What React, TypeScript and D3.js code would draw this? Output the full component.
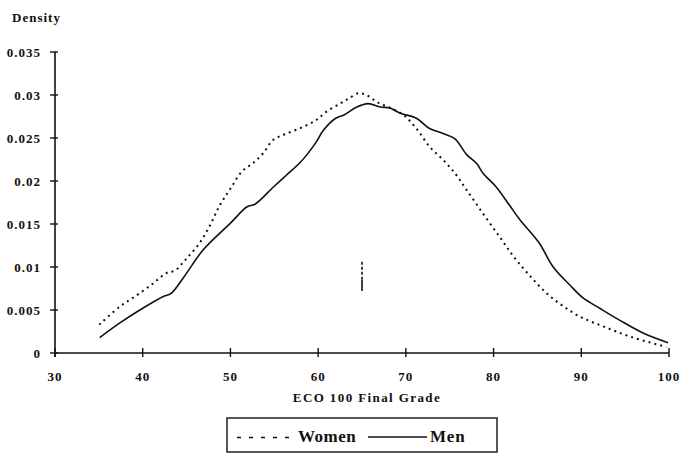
import React from "react";
import * as d3 from "d3";

const xTicks = [30, 40, 50, 60, 70, 80, 90, 100];
const yTicks = [0, 0.005, 0.01, 0.015, 0.02, 0.025, 0.03, 0.035];
const yTickLabels = ["0", "0.005", "0.01", "0.015", "0.02", "0.025", "0.03", "0.035"];

const menGrades = [35.1, 37.4, 40, 42.4, 43.2, 44.6, 46.9, 50, 51.9, 52.8, 54.9, 56.4, 58, 59.7, 60.6, 62, 63, 64.4, 65.7, 67.1, 68.2, 69.3, 71.2, 72.7, 74.3, 75.6, 76.9, 78.1, 78.8, 80.3, 81.8, 83, 85.2, 86.8, 88.7, 90.2, 92.1, 94.4, 97.1, 99.9];
const menDensity = [0.0018, 0.0035, 0.0052, 0.0066, 0.0069, 0.0087, 0.012, 0.0151, 0.017, 0.0173, 0.0193, 0.0207, 0.0222, 0.0244, 0.0259, 0.0273, 0.0277, 0.0286, 0.029, 0.0286, 0.0285, 0.0279, 0.0273, 0.0261, 0.0255, 0.0249, 0.0231, 0.022, 0.0209, 0.0193, 0.0172, 0.0155, 0.0128, 0.01, 0.0079, 0.0064, 0.0052, 0.0038, 0.0023, 0.0012];

const womenGrades = [35.05, 37.4, 39.3, 41.2, 42.7, 43.7, 45, 46.5, 47.7, 48.8, 50, 51.3, 52.6, 53.7, 54.9, 56.4, 58.3, 59.8, 61, 62.5, 63.5, 64.6, 65.5, 66.7, 68.2, 69.7, 71.2, 72.7, 74.3, 75.6, 76.9, 78.8, 80.7, 82.3, 84.2, 86.1, 88, 89.9, 92.5, 95.6, 99.7];
const womenDensity = [0.0033, 0.0054, 0.0067, 0.0081, 0.0093, 0.0096, 0.011, 0.0128, 0.0149, 0.0172, 0.0191, 0.0211, 0.0221, 0.0232, 0.0248, 0.0255, 0.0263, 0.0271, 0.0281, 0.029, 0.0296, 0.0302, 0.03, 0.0292, 0.0285, 0.0277, 0.0261, 0.024, 0.0224, 0.0209, 0.019, 0.0162, 0.0135, 0.0112, 0.0089, 0.0069, 0.0054, 0.0042, 0.0031, 0.0019, 0.0007];

const meanMarkGrade = 65;
const meanMarkDensity = [0.0072, 0.0085, 0.0106];

const FONT = "'Liberation Serif', 'Times New Roman', serif";

export default function App() {
  const W = 681, H = 457;
  const x = d3.scaleLinear().domain([30, 100]).range([55, 669]);
  const y = d3.scaleLinear().domain([0, 0.035]).range([353, 52]);
  const line = d3
    .line<[number, number]>()
    .x((d) => x(d[0]))
    .y((d) => y(d[1]))
    .curve(d3.curveCatmullRom.alpha(0.5));
  const menPath = line(menGrades.map((g, i) => [g, menDensity[i]]) as [number, number][]) || "";
  const womenPath = line(womenGrades.map((g, i) => [g, womenDensity[i]]) as [number, number][]) || "";

  return (
    <svg
      width={W}
      height={H}
      style={{ position: "absolute", left: 0, top: 0, background: "#fff" }}
      fontFamily={FONT}
      fontWeight="bold"
    >
      <rect x={0} y={0} width={W} height={H} fill="#fff" />
      <text x={12} y={22} fontSize={13} letterSpacing={1} fill="#111">Density</text>

      {/* y axis */}
      <line x1={x(30)} x2={x(30)} y1={y(0.035)} y2={y(0) + 4} stroke="#111" strokeWidth={1.6} />
      {yTicks.map((t, i) => (
        <g key={"y" + i}>
          <line x1={x(30) - 5} x2={x(30) + 3} y1={y(t)} y2={y(t)} stroke="#111" strokeWidth={1.4} />
          <text x={41} y={y(t) + 4.5} textAnchor="end" fontSize={13} letterSpacing={1} fill="#111">
            {yTickLabels[i]}
          </text>
        </g>
      ))}

      {/* x axis */}
      <line x1={x(30)} x2={x(100)} y1={y(0)} y2={y(0)} stroke="#111" strokeWidth={1.6} />
      {xTicks.map((t, i) => (
        <g key={"x" + i}>
          <line x1={x(t)} x2={x(t)} y1={y(0) - 5} y2={y(0) + 4} stroke="#111" strokeWidth={1.4} />
          <text x={x(t)} y={381} textAnchor="middle" fontSize={13} letterSpacing={1} fill="#111">
            {t}
          </text>
        </g>
      ))}
      <text x={367} y={402} textAnchor="middle" fontSize={13} letterSpacing={1.4} fill="#111">
        ECO 100 Final Grade
      </text>

      {/* curves */}
      <path d={womenPath} fill="none" stroke="#111" strokeWidth={2} strokeDasharray="2,4" />
      <path d={menPath} fill="none" stroke="#111" strokeWidth={1.6} />

      {/* mean marker */}
      <line
        x1={x(meanMarkGrade)}
        x2={x(meanMarkGrade)}
        y1={y(meanMarkDensity[2])}
        y2={y(meanMarkDensity[1])}
        stroke="#111"
        strokeWidth={1.6}
        strokeDasharray="3,2"
      />
      <line
        x1={x(meanMarkGrade)}
        x2={x(meanMarkGrade)}
        y1={y(meanMarkDensity[1])}
        y2={y(meanMarkDensity[0])}
        stroke="#111"
        strokeWidth={1.6}
      />

      {/* legend */}
      <rect x={227} y={418} width={270} height={34} fill="none" stroke="#111" strokeWidth={1.4} />
      <line x1={237} x2={289} y1={437.5} y2={437.5} stroke="#111" strokeWidth={1.6} strokeDasharray="4,8" />
      <text x={298} y={442} fontSize={17} letterSpacing={0.5} fill="#111">Women</text>
      <line x1={368} x2={427} y1={437} y2={437} stroke="#111" strokeWidth={1.4} />
      <text x={430} y={442} fontSize={17} letterSpacing={0.8} fill="#111">Men</text>
    </svg>
  );
}
